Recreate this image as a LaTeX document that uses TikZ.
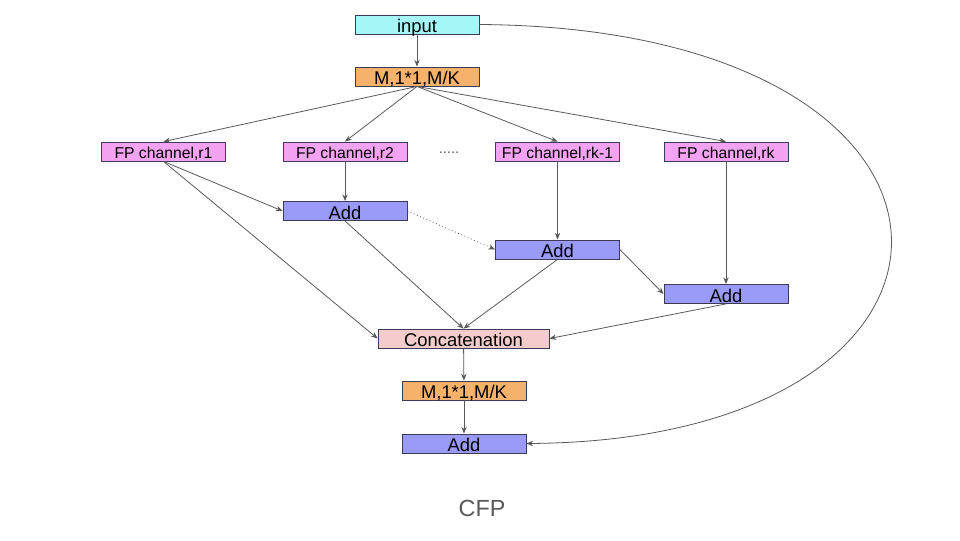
\documentclass[tikz,border=0pt]{standalone}
\usepackage{fontspec}
\setmainfont{Liberation Sans}
\usetikzlibrary{arrows.meta}
\definecolor{incol}{HTML}{A4F6F7}
\definecolor{convcol}{HTML}{F6B26B}
\definecolor{fpcol}{HTML}{F4A2F2}
\definecolor{addcol}{HTML}{9A9AF8}
\definecolor{catcol}{HTML}{F4CCCC}
\definecolor{edgecol}{HTML}{595959}
\definecolor{boxline}{HTML}{3C3C5A}

\begin{document}
\begin{tikzpicture}[x=0.75pt,y=-0.75pt,
		blk/.style={draw=boxline,line width=0.6pt,minimum width=93pt,minimum height=14.3pt,inner sep=0pt,text height=12pt,text depth=0pt,font=\fontsize{13.8}{13.8}\selectfont},
		fpblk/.style={blk,fill=fpcol,text height=10.4pt,font=\fontsize{11.8}{11.8}\selectfont},
		addblk/.style={blk,fill=addcol},
		conv/.style={blk,fill=convcol},
		link/.style={draw=edgecol,line width=0.6pt,-{Stealth[length=5pt,width=4pt]}}]
		\useasboundingbox (0,0) rectangle (960,540);
		% top of the network
		\node[blk,fill=incol] (in) at (417,24.5) {input};
		\node[conv] (m1) at (417,76.5) {M,1*1,M/K};
		% channels
		\node[fpblk] (r1) at (163.5,151.5) {FP channel,r1};
		\node[fpblk] (r2) at (345,151.5) {FP channel,r2};
		\node[text=edgecol,font=\fontsize{11}{11}\selectfont] (dots) at (449,153) {.....};
		\node[fpblk] (rk1) at (557.5,151.5) {FP channel,rk-1};
		\node[fpblk] (rk) at (726,151.5) {FP channel,rk};
		\node[addblk] (a1) at (345,211) {Add};
		\node[addblk] (a2) at (557.5,249.5) {Add};
		\node[addblk] (a3) at (726,294) {Add};
		% merge
		\node[blk,fill=catcol,minimum width=128.3pt] (cat) at (463.5,338.5) {Concatenation};
		\node[conv] (m2) at (464,390.5) {M,1*1,M/K};
		\node[addblk] (out) at (464,443.5) {Add};
		\node[text=edgecol,font=\fontsize{17.5}{17.5}\selectfont] (title) at (482,508) {CFP};

		\draw[link] (in) -- (m1);
		\foreach \c in {r1,r2,rk1,rk}
			\draw[link] (m1.south) -- (\c.north);
		\draw[link] (r1.south) -- (a1.west);
		\draw[link] (r1.south) -- (cat.west);
		\draw[link] (r2) -- (a1);
		\draw[link,dotted] (a1.east) -- (a2.west);
		\draw[link] (rk1) -- (a2);
		\draw[link] (rk) -- (a3);
		\draw[link] (a2.east) -- (a3.west);
		\draw[link] (a1.south) -- (cat.north);
		\draw[link] (a2.south) -- (cat.north);
		\draw[link] (a3.south) -- (cat.east);
		\draw[link] (cat) -- (m2);
		\draw[link] (m2) -- (out);
		% skip connection
		\draw[link] (in.east) .. controls (1020,28) and (1020,440) .. (out.east);
	\end{tikzpicture}
\end{document}
